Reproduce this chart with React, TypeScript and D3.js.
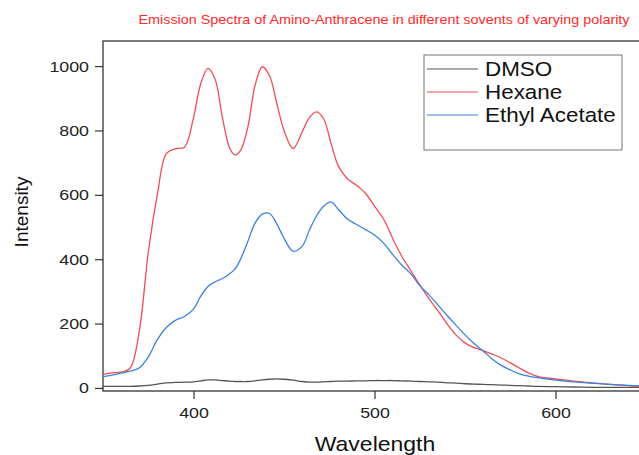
import React, { useEffect, useRef } from "react";
import * as d3 from "d3";

// wavelength grid (nm) shared by all three spectra
const wavelengths = [
  350, 355, 360, 365, 370, 375, 380, 385, 390, 395, 400, 404, 408, 412, 416, 420, 423, 426, 430, 434,
  438, 442, 446, 450, 455, 460, 464, 468, 472, 476, 480, 485, 490, 495, 500, 505, 510, 515, 520, 525,
  530, 535, 540, 545, 550, 555, 560, 565, 570, 575, 580, 585, 590, 600, 610, 620, 630, 640, 650,
];

const dmso = [
  5, 5, 5, 5, 6, 8, 12, 16, 17, 18, 19, 22, 25, 25, 23, 21, 20, 20, 20, 22,
  25, 27, 28, 27, 24, 20, 18, 18, 19, 20, 21, 21, 22, 22, 23, 23, 23, 22, 21, 20,
  19, 18, 16, 15, 13, 12, 11, 10, 9, 8, 7, 6, 5, 4, 3, 2, 2, 2, 2,
];

const hexane = [
  42, 47, 49, 62, 175, 420, 600, 728, 743, 748, 840, 945, 993, 958, 840, 745, 724, 738, 810, 940,
  998, 970, 885, 800, 744, 795, 840, 858, 835, 760, 690, 650, 630, 605, 565, 525, 465, 410, 365, 320,
  278, 240, 200, 165, 140, 125, 116, 105, 93, 78, 62, 47, 36, 28, 21, 16, 11, 7, 4,
];

const ethylAcetate = [
  35, 40, 46, 52, 62, 96, 150, 188, 210, 222, 245, 285, 315, 330, 340, 355, 370, 400, 455, 512,
  540, 542, 510, 465, 425, 440, 490, 535, 565, 578, 555, 525, 508, 492, 475, 450, 415, 382, 355, 318,
  290, 258, 226, 195, 165, 138, 115, 90, 70, 56, 44, 37, 32, 24, 19, 15, 11, 8, 6,
];

const seriesNames = ["DMSO", "Hexane", "Ethyl Acetate"];
const seriesColors = ["#555555", "#f24c54", "#3b7fe0"];
const yTicks = [0, 200, 400, 600, 800, 1000];
const xTicks = [400, 500, 600];

const W = 639;
const H = 455;
// the source picture is a little wider than tall, so glyphs are stretched sideways
const SX = 1.15;

function App() {
  const ref = useRef<SVGSVGElement>(null);

  useEffect(() => {
    const svg = d3.select(ref.current);
    svg.selectAll("*").remove();

    const left = 103;
    const top = 41;
    const right = 646;
    const bottom = 391;
    const font = "'Liberation Sans', Arial, sans-serif";

    const x = d3.scaleLinear().domain([350, 650]).range([left, right]);
    const y = d3.scaleLinear().domain([-9.5, 1078]).range([bottom, top]);

    const label = (tx: number, ty: number, str: string, size: number, anchor: string, fill = "#111", rot = 0) =>
      svg.append("text")
        .attr("transform", `translate(${tx},${ty}) rotate(${rot}) scale(${SX},1)`)
        .attr("text-anchor", anchor)
        .attr("fill", fill)
        .style("font-family", font)
        .style("font-size", `${size}px`)
        .text(str);

    // title
    label(384, 24, "Emission Spectra of Amino-Anthracene in different sovents of varying polarity", 12.5, "middle", "#ff2a2a");

    // frame
    svg.append("rect")
      .attr("x", left)
      .attr("y", top)
      .attr("width", right - left)
      .attr("height", bottom - top)
      .attr("fill", "none")
      .attr("stroke", "#333")
      .attr("stroke-width", 1.3);

    // lines
    const allSeries = [dmso, hexane, ethylAcetate];
    const line = d3.line<number>()
      .x((_, i) => x(wavelengths[i]))
      .y((d) => y(d))
      .curve(d3.curveCatmullRom.alpha(0.5));

    const plot = svg.append("g");
    allSeries.forEach((vals, k) => {
      plot.append("path")
        .datum(vals)
        .attr("d", line)
        .attr("fill", "none")
        .attr("stroke", seriesColors[k])
        .attr("stroke-width", 1.3);
    });

    // y axis
    const yAxis = svg.append("g")
      .attr("transform", `translate(${left},0)`)
      .call(d3.axisLeft(y).tickValues(yTicks).tickFormat(d3.format("d")).tickSize(8).tickPadding(6));
    yAxis.select(".domain").remove();
    yAxis.selectAll("line").attr("stroke", "#333").attr("stroke-width", 1.2);
    yAxis.selectAll<SVGTextElement, unknown>("text").each(function () {
      const t = d3.select(this);
      const tx = +t.attr("x");
      t.attr("x", 0).attr("transform", `translate(${tx},0) scale(${SX},1)`);
    })
      .attr("fill", "#222")
      .style("font-family", font)
      .style("font-size", "15.5px");

    // x axis
    const xAxis = svg.append("g")
      .attr("transform", `translate(0,${bottom})`)
      .call(d3.axisBottom(x).tickValues(xTicks).tickSize(8).tickPadding(8));
    xAxis.select(".domain").remove();
    xAxis.selectAll("line").attr("stroke", "#333").attr("stroke-width", 1.2);
    xAxis.selectAll<SVGTextElement, unknown>("text").each(function () {
      const t = d3.select(this);
      const ty = +t.attr("y");
      t.attr("y", 0).attr("transform", `translate(0,${ty}) scale(${SX},1)`);
    })
      .attr("fill", "#222")
      .style("font-family", font)
      .style("font-size", "15.5px");

    // axis titles
    svg.append("text")
      .attr("transform", "translate(28,212) rotate(-90)")
      .attr("text-anchor", "middle")
      .attr("fill", "#111")
      .style("font-family", font)
      .style("font-size", "19px")
      .text("Intensity");

    label(375, 451, "Wavelength", 20, "middle");

    // legend
    const legend = svg.append("g");
    legend.append("rect")
      .attr("x", 424)
      .attr("y", 55)
      .attr("width", 198)
      .attr("height", 95)
      .attr("fill", "#fff")
      .attr("stroke", "#777")
      .attr("stroke-width", 1);
    seriesNames.forEach((name, k) => {
      const ly = 69 + k * 23;
      legend.append("line")
        .attr("x1", 427)
        .attr("x2", 478)
        .attr("y1", ly)
        .attr("y2", ly)
        .attr("stroke", seriesColors[k])
        .attr("stroke-width", 1.2);
      label(485, ly + 7, name, 19.5, "start");
    });
  }, []);

  return (
    <svg
      ref={ref}
      width={W}
      height={H}
      style={{ position: "absolute", left: 0, top: 0, background: "#fff" }}
    />
  );
}

export default App;
